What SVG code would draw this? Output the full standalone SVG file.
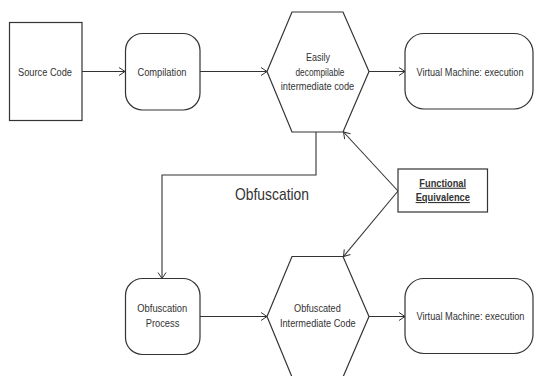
<svg xmlns="http://www.w3.org/2000/svg" width="534" height="376" viewBox="0 0 534 376">
<defs>
<marker id="arr" markerUnits="userSpaceOnUse" markerWidth="12" markerHeight="12" refX="8" refY="5" orient="auto">
<path d="M2,1 L8,5 L2,9" fill="none" stroke="#333" stroke-width="1"/>
</marker>
<style>
.box{fill:#fff;stroke:#333;stroke-width:1.2}
.t{font-family:"Liberation Sans",Arial,sans-serif;font-size:11px;fill:#333;text-anchor:middle}
.vm{font-size:10px}
.fe{font-weight:bold;text-decoration:underline}
.big{font-size:17px}
.c{fill:none;stroke:#333;stroke-width:1.1}
</style>
</defs>
<rect width="534" height="376" fill="#fff"/>
<g id="connectors">
<line class="c" x1="82" y1="71.5" x2="125" y2="71.5" marker-end="url(#arr)"/>
<line class="c" x1="200" y1="71.5" x2="267" y2="71.5" marker-end="url(#arr)"/>
<line class="c" x1="369" y1="71.5" x2="405" y2="71.5" marker-end="url(#arr)"/>
<polyline class="c" points="316,132 316,175 162,175 162,278.5" marker-end="url(#arr)"/>
<line class="c" x1="200" y1="316.5" x2="267" y2="316.5" marker-end="url(#arr)"/>
<line class="c" x1="369" y1="316.5" x2="405" y2="316.5" marker-end="url(#arr)"/>
<line class="c" x1="398" y1="191" x2="343.5" y2="132" marker-end="url(#arr)"/>
<line class="c" x1="398" y1="191" x2="343.5" y2="256.5" marker-end="url(#arr)"/>
<text class="t big" x="272" y="200" textLength="74" lengthAdjust="spacingAndGlyphs">Obfuscation</text>
</g>
<g id="source">
<rect class="box" x="9.5" y="22.5" width="72.5" height="98"/>
<text class="t" x="45" y="75.5" textLength="54" lengthAdjust="spacingAndGlyphs">Source Code</text>
</g>
<g id="compilation">
<rect class="box" x="125.5" y="33.5" width="74.5" height="76.5" rx="17" ry="17"/>
<text class="t" x="162" y="75.5" textLength="49" lengthAdjust="spacingAndGlyphs">Compilation</text>
</g>
<g id="easily">
<polygon class="box" points="292,12 343,12 369,71.5 343,132 292,132 267,71.5"/>
<text class="t" x="318" y="60.5" textLength="24" lengthAdjust="spacingAndGlyphs">Easily</text>
<text class="t" x="320" y="75.5" textLength="49" lengthAdjust="spacingAndGlyphs">decompilable</text>
<text class="t" x="317.5" y="90" textLength="73.5" lengthAdjust="spacingAndGlyphs">intermediate code</text>
</g>
<g id="vm1">
<rect class="box" x="405" y="33.5" width="128" height="75.5" rx="19" ry="19"/>
<text class="t vm" x="470" y="76" textLength="107" lengthAdjust="spacingAndGlyphs">Virtual Machine: execution</text>
</g>
<g id="equivalence">
<rect class="box" x="398" y="169" width="89.5" height="43"/>
<text class="t fe" x="442.7" y="186.7" textLength="46.7" lengthAdjust="spacingAndGlyphs">Functional</text>
<text class="t fe" x="442.8" y="201" textLength="54.3" lengthAdjust="spacingAndGlyphs">Equivalence</text>
</g>
<g id="process">
<rect class="box" x="125.5" y="278.5" width="74.5" height="76" rx="17" ry="17"/>
<text class="t" x="162.3" y="312" textLength="50" lengthAdjust="spacingAndGlyphs">Obfuscation</text>
<text class="t" x="162.5" y="326.7" textLength="33.6" lengthAdjust="spacingAndGlyphs">Process</text>
</g>
<g id="obfuscated">
<polygon class="box" points="292,256.5 343,256.5 369,316.5 343,377 292,377 267,316.5"/>
<text class="t" x="317.4" y="312" textLength="46.7" lengthAdjust="spacingAndGlyphs">Obfuscated</text>
<text class="t" x="317.8" y="326.5" textLength="75.7" lengthAdjust="spacingAndGlyphs">Intermediate Code</text>
</g>
<g id="vm2">
<rect class="box" x="405" y="278.5" width="128" height="75" rx="19" ry="19"/>
<text class="t vm" x="470.5" y="319.5" textLength="108" lengthAdjust="spacingAndGlyphs">Virtual Machine: execution</text>
</g>
</svg>
